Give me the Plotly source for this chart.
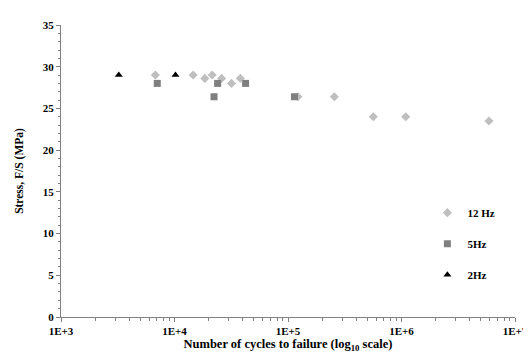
import plotly.graph_objects as go

# Data
hz12_cycles = [6780, 14600, 18500, 21500, 26000, 31800, 38000, 122500, 256000, 564000, 1090000, 5890000]
hz12_stress = [29.0, 29.0, 28.6, 29.0, 28.6, 28.0, 28.6, 26.4, 26.4, 24.0, 24.0, 23.5]

hz5_cycles = [7050, 22300, 24000, 42300, 114000]
hz5_stress = [28.0, 26.4, 28.0, 28.0, 26.4]

hz2_cycles = [3230, 10200]
hz2_stress = [29.0, 29.0]

x_tickvals = [1e3, 1e4, 1e5, 1e6, 1e7]
x_ticktext = ["1E+3", "1E+4", "1E+5", "1E+6", "1E+7"]
x_minor = [m * 10**e for e in range(3, 7) for m in range(2, 10)]

FONT = "Liberation Serif"

fig = go.Figure()
fig.add_trace(go.Scatter(x=hz12_cycles, y=hz12_stress, mode="markers", name="12 Hz",
                         legendgroup="a",
                         marker=dict(symbol="diamond", size=7, color="#BFBFBF")))
fig.add_trace(go.Scatter(x=hz5_cycles, y=hz5_stress, mode="markers", name="5Hz",
                         legendgroup="b",
                         marker=dict(symbol="square", size=7, color="#7F7F7F")))
fig.add_trace(go.Scatter(x=hz2_cycles, y=hz2_stress, mode="markers", name="2Hz",
                         legendgroup="c",
                         marker=dict(symbol="triangle-up", size=7, color="#000000")))

fig.update_layout(
    width=531, height=352,
    margin=dict(l=53, r=11, t=16, b=40),
    paper_bgcolor="white", plot_bgcolor="white",
    font=dict(family=FONT, size=11, color="black", weight="bold"),
    legend=dict(x=0.807, y=0.407, xanchor="left", yanchor="top",
                bgcolor="rgba(0,0,0,0)", tracegroupgap=12,
                font=dict(family=FONT, size=11, color="black", weight="bold"),
                itemsizing="trace"),
    xaxis=dict(type="log", range=[3, 7], tickvals=x_tickvals, ticktext=x_ticktext,
               ticklabeloverflow="allow",
               showgrid=False, zeroline=False, showline=True, linecolor="#808080",
               linewidth=1, ticks="outside", ticklen=4, tickcolor="#808080",
               minor=dict(tickvals=x_minor, ticks="outside", ticklen=3, tickcolor="#808080"),
               tickfont=dict(family=FONT, size=11, weight="bold"),
               title=dict(text="Number of cycles to failure (log<sub>10</sub> scale)",
                          font=dict(family=FONT, size=12.5, weight="bold"), standoff=3)),
    yaxis=dict(range=[0, 35], dtick=5, tick0=0,
               showgrid=False, zeroline=False, showline=True, linecolor="#808080",
               linewidth=1, ticks="outside", ticklen=4, tickcolor="#808080",
               minor=dict(dtick=1, ticks="outside", ticklen=2, tickcolor="#808080"),
               tickfont=dict(family=FONT, size=11, weight="bold"),
               title=dict(text="Stress, F/S (MPa)",
                          font=dict(family=FONT, size=11.5, weight="bold"), standoff=16)),
)

fig.write_html("out.html")
